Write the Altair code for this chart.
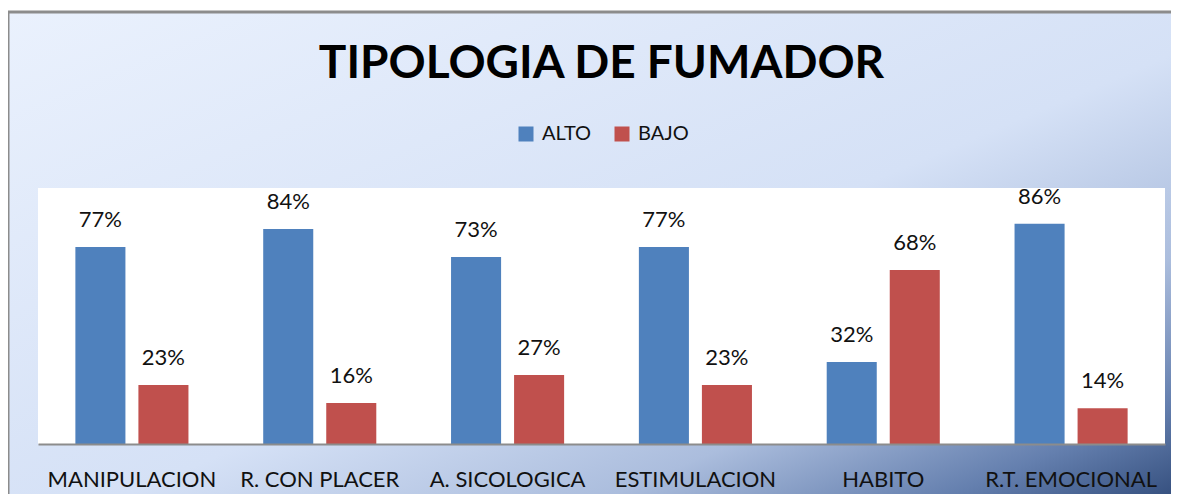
import altair as alt
import pandas as pd

categories = ["MANIPULACION", "R. CON PLACER", "A. SICOLOGICA", "ESTIMULACION", "HABITO", "R.T. EMOCIONAL"]
series = ["ALTO", "BAJO"]
alto = [0.77, 0.84, 0.73, 0.77, 0.32, 0.86]
bajo = [0.23, 0.16, 0.27, 0.23, 0.68, 0.14]
colors = ["#4F81BD", "#C0504D"]

rows = []
for c, a, b in zip(categories, alto, bajo):
    rows.append({"cat": c, "serie": "ALTO", "val": a})
    rows.append({"cat": c, "serie": "BAJO", "val": b})
df = pd.DataFrame(rows)

W, H = 1127, 256
PL, PT, PR, PB = 30, 180, 6, 50
FONT = "Lato"

grad = alt.Gradient(
    gradient="linear", x1=0, y1=0, x2=1, y2=1,
    stops=[
        alt.GradientStop(offset=0, color="#eaf1fd"),
        alt.GradientStop(offset=0.52, color="#d5e1f6"),
        alt.GradientStop(offset=0.72, color="#abbddd"),
        alt.GradientStop(offset=0.86, color="#647fae"),
        alt.GradientStop(offset=1, color="#1d3766"),
    ],
)

one = alt.Data(values=[{}])
bg = alt.Chart(one).mark_rect(fill=grad, stroke="#8c8c8c", strokeWidth=3).encode(
    x=alt.value(-PL), x2=alt.value(W + 60), y=alt.value(-PT + 4), y2=alt.value(H + 80)
)
white = alt.Chart(one).mark_rect(fill="white").encode(
    x=alt.value(0), x2=alt.value(W), y=alt.value(0), y2=alt.value(H)
)

xenc = alt.X("cat:N", sort=categories, title=None,
             scale=alt.Scale(paddingInner=0, paddingOuter=0),
             axis=alt.Axis(labelAngle=0, ticks=False, domainColor="#8c8c8c", domainWidth=2,
                           labelFont=FONT, labelFontSize=22, labelColor="#111111",
                           labelPadding=25, grid=False, zindex=2))
xoff = alt.XOffset("serie:N", sort=series,
                   scale=alt.Scale(paddingInner=0.206, paddingOuter=0.593))
yenc = alt.Y("val:Q", scale=alt.Scale(domain=[0, 1]), axis=None)

bars = alt.Chart(df).mark_bar().encode(
    x=xenc, xOffset=xoff, y=yenc,
    color=alt.Color("serie:N", sort=series, scale=alt.Scale(domain=series, range=colors),
                    legend=alt.Legend(title=None, orient="none", legendX=478, legendY=-64,
                                      direction="horizontal", symbolType="square",
                                      symbolSize=225, symbolStrokeWidth=0,
                                      labelFont=FONT, labelFontSize=20, labelColor="#111111",
                                      labelOffset=6, columnPadding=20)),
)
labels = alt.Chart(df).mark_text(font=FONT, fontSize=22, color="#111111", dy=-27).encode(
    x=xenc, xOffset=xoff, y=yenc,
    text=alt.Text("val:Q", format=".0%"),
)

chart = alt.layer(bg, white, bars, labels).properties(
    width=W, height=H,
    padding={"left": PL, "top": PT, "right": PR, "bottom": PB},
    autosize=alt.AutoSizeParams(type="none"),
    title=alt.TitleParams("TIPOLOGIA DE FUMADOR", font=FONT, fontSize=46, fontWeight="bold",
                          color="#000000", anchor="middle", offset=-77),
).configure_view(stroke=None)

chart.save("out.html", embed_options={"renderer": "svg", "actions": False})
